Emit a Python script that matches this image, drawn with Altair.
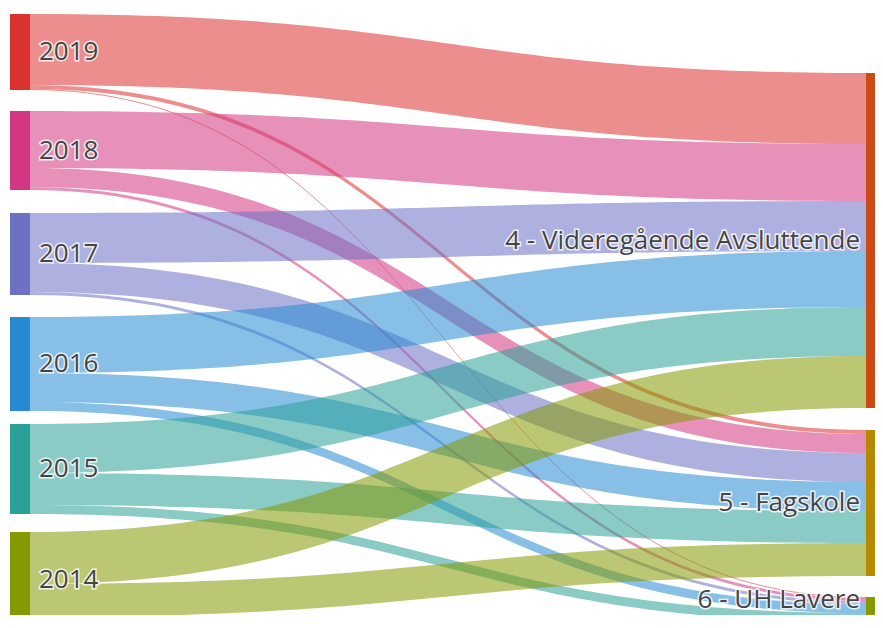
import altair as alt
import pandas as pd

# ---------------- data ----------------
sources = ["2019", "2018", "2017", "2016", "2015", "2014"]
targets = ["4 - Videregående Avsluttende", "5 - Fagskole", "6 - UH Lavere"]
to_videregaende = [71, 57, 50, 56, 49, 52]
to_fagskole = [4, 19, 29, 29, 32, 33]
to_uh_lavere = [1, 3, 3, 9, 9, 11]

source_colors = ["#dc322f", "#d33682", "#6c71c4", "#268bd2", "#2aa198", "#859900"]
target_colors = ["#cb4b16", "#b58900", "#859900"]

# ---------------- layout ----------------
W, H = 867, 607
left_gaps = [6, 21, 23, 22, 13, 18]    # space above each source node (value units)
right_gaps = [65, 22, 21]             # space above each target node
node_w = 20
left_x = 2
right_x = 858
N = 80

flows = []
for si in range(len(sources)):
    for ti, series in enumerate([to_videregaende, to_fagskole, to_uh_lavere]):
        flows.append((si, ti, series[si]))

src_tot = [sum(v for s, t, v in flows if s == i) for i in range(len(sources))]
tgt_tot = [sum(v for s, t, v in flows if t == i) for i in range(len(targets))]

src_y = []
y = 0
for g, h in zip(left_gaps, src_tot):
    y += g
    src_y.append(y)
    y += h
tgt_y = []
y = 0
for g, h in zip(right_gaps, tgt_tot):
    y += g
    tgt_y.append(y)
    y += h

src_off = list(src_y)
tgt_off = list(tgt_y)
rows = []
link_pos = {}
for si in range(len(sources)):
    for ti in range(len(targets)):
        v = [f for f in flows if f[0] == si and f[1] == ti][0][2]
        link_pos[(si, ti)] = [src_off[si], None, v]
        src_off[si] += v
for ti in range(len(targets)):
    for si in range(len(sources)):
        lp = link_pos[(si, ti)]
        lp[1] = tgt_off[ti]
        tgt_off[ti] += lp[2]

x0, x1 = left_x + node_w, right_x
for (si, ti), (ys_, yt, v) in link_pos.items():
    for k in range(N + 1):
        t = k / N
        fx = 1.5 * t * (1 - t) + t ** 3
        fy = 3 * t * t - 2 * t ** 3
        xx = x0 + (x1 - x0) * fx
        yy = ys_ + (yt - ys_) * fy
        rows.append({"link": f"{si}-{ti}", "source": sources[si], "x": xx,
                     "y": yy, "y2": yy + v})
link_df = pd.DataFrame(rows)

node_rows = []
for i, s in enumerate(sources):
    node_rows.append({"name": s, "x": left_x, "x2": left_x + node_w,
                      "y": src_y[i], "y2": src_y[i] + src_tot[i],
                      "color": source_colors[i], "side": "L"})
for i, s in enumerate(targets):
    node_rows.append({"name": s, "x": right_x, "x2": right_x + node_w,
                      "y": tgt_y[i], "y2": tgt_y[i] + tgt_tot[i],
                      "color": target_colors[i], "side": "R"})
node_df = pd.DataFrame(node_rows)
# label anchor: node centre, kept inside the visible area
node_df["yc"] = ((node_df["y"] + node_df["y2"]) / 2).clip(upper=H - 15)
node_df["lx"] = node_df.apply(lambda r: r["x2"] + 9 if r["side"] == "L" else r["x"] - 6, axis=1)

xs = alt.Scale(domain=[0, W], nice=False, zero=False)
ys = alt.Scale(domain=[0, H], nice=False, zero=False, reverse=True)

links = alt.Chart(link_df).mark_area(clip=True, opacity=0.55, interpolate="linear").encode(
    x=alt.X("x:Q", scale=xs, axis=None),
    y=alt.Y("y:Q", scale=ys, axis=None),
    y2="y2:Q",
    color=alt.Color("source:N", scale=alt.Scale(domain=sources, range=source_colors), legend=None),
    detail="link:N",
)

nodes = alt.Chart(node_df).mark_rect(clip=True).encode(
    x=alt.X("x:Q", scale=xs, axis=None), x2="x2:Q",
    y=alt.Y("y:Q", scale=ys, axis=None), y2="y2:Q",
    color=alt.Color("color:N", scale=None),
)

font = "Open Sans"
fs = 26
def labels(side, align):
    d = node_df[node_df["side"] == side]
    base = alt.Chart(d).encode(
        x=alt.X("lx:Q", scale=xs, axis=None),
        y=alt.Y("yc:Q", scale=ys, axis=None),
        text="name:N",
    )
    halo = base.mark_text(align=align, baseline="middle", font=font, fontSize=fs,
                          stroke="white", strokeWidth=3, strokeOpacity=0.8, color="white")
    txt = base.mark_text(align=align, baseline="middle", font=font, fontSize=fs, color="#444")
    return halo + txt

chart = alt.layer(links, nodes, labels("L", "left"), labels("R", "right")).properties(
    width=W, height=H, padding=0
).configure_view(stroke=None)

chart.save("out.html", embed_options={"renderer": "svg", "actions": False})
